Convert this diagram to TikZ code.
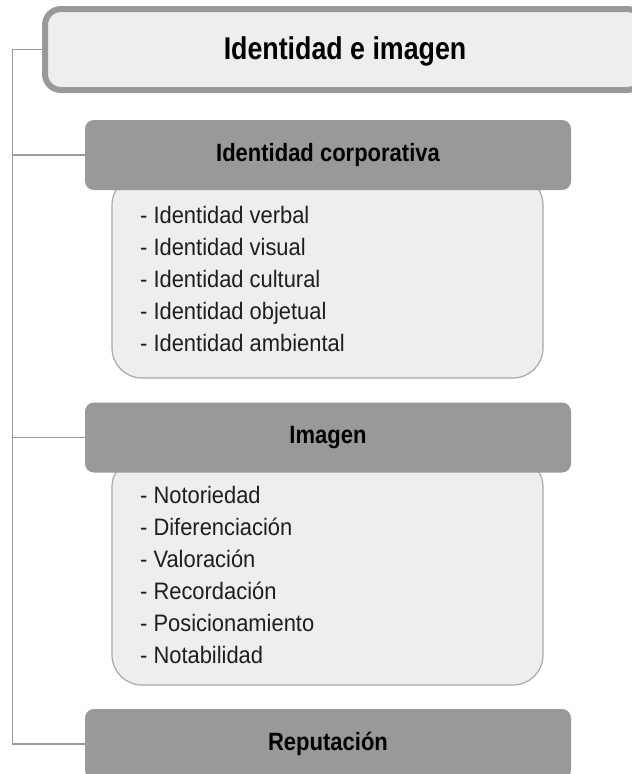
\documentclass[tikz,border=0pt]{standalone}
\usepackage{fontspec}
\setmainfont{Liberation Sans}
\newfontfamily\titlefont[FakeStretch=0.85]{Liberation Sans}
\newfontfamily\hdrfont[FakeStretch=0.88]{Liberation Sans}
\newfontfamily\itemfont[FakeStretch=0.92]{Liberation Sans}
\definecolor{hdrgray}{HTML}{999999}
\definecolor{lightfill}{HTML}{EEEEEE}
\definecolor{linegray}{HTML}{9A9A9A}
\definecolor{boxedge}{HTML}{A8A8A8}
\definecolor{txt}{HTML}{1E1E1E}
\tikzset{
  conn/.style={draw=linegray, line width=1.2pt},
  titlebox/.style={draw=hdrgray, fill=lightfill, line width=6pt, rounded corners=16pt,
    minimum width=598pt, minimum height=81pt, inner sep=0pt, outer sep=0.5\pgflinewidth},
  hdrbox/.style={fill=hdrgray, rounded corners=9pt, minimum width=486pt, minimum height=70pt,
    inner sep=0pt, font={\hdrfont\bfseries\fontsize{25}{28}\selectfont}, text=black},
  listbox/.style={draw=boxedge, fill=lightfill, line width=1.2pt, rounded corners=30pt,
    minimum width=431pt, inner sep=0pt},
  itemtext/.style={anchor=base west, inner sep=0pt, text=txt,
    font={\itemfont\fontsize{23.8}{28}\selectfont}}
}
\begin{document}
\begin{tikzpicture}[x=1pt,y=-1pt]
\useasboundingbox (0,0) rectangle (632,774);
\clip (0,0) rectangle (632,774);
% title
\node[titlebox] (title) at (344,49.5) {};
\node[font={\titlefont\bfseries\fontsize{31.5}{34}\selectfont}, text=black, inner sep=0pt] (titletext) at (345,51) {Identidad e imagen};
% list boxes (behind headers)
\node[listbox, minimum height=203pt] (box1) at (327.5,276.5) {};
\node[listbox, minimum height=228pt] (box2) at (327.5,571) {};
% headers
\node[hdrbox] (hdr1) at (328,155) {Identidad corporativa};
\node[hdrbox] (hdr2) at (328,437.5) {Imagen};
\node[hdrbox] (hdr3) at (328,744) {Reputación};
% items
\foreach \t [count=\i] in {- Identidad verbal, - Identidad visual, - Identidad cultural, - Identidad objetual, - Identidad ambiental}
  \node[itemtext] (a\i) at (140,{223+32*(\i-1)}) {\t};
\foreach \t [count=\i] in {- Notoriedad, - Diferenciación, - Valoración, - Recordación, - Posicionamiento, - Notabilidad}
  \node[itemtext] (b\i) at (140,{503+32*(\i-1)}) {\t};
% connectors
\coordinate (trunk) at (12.5,0);
\draw[conn] (title.west) -- (title.west -| trunk) -- (hdr3.west -| trunk) -- (hdr3.west);
\draw[conn] (hdr1.west) -- (hdr1.west -| trunk);
\draw[conn] (hdr2.west) -- (hdr2.west -| trunk);
\end{tikzpicture}
\end{document}
